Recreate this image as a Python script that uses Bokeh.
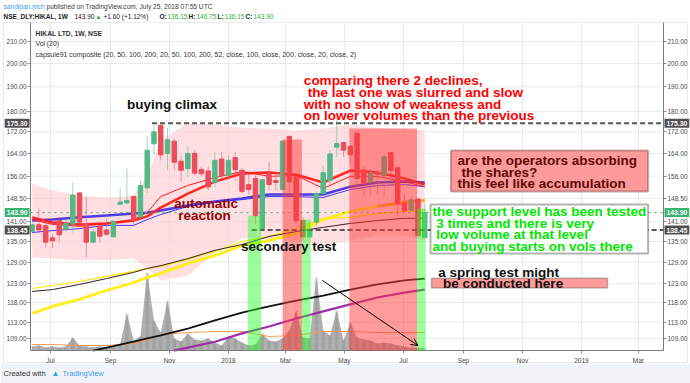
import math
import pandas as pd
from bokeh.plotting import figure
from bokeh.models import (Range1d, LogAxis, DatetimeAxis, FixedTicker, PrintfTickFormatter, Label,
                          Arrow, OpenHead, BoxAnnotation, ColumnDataSource, LinearScale, LogScale)
from bokeh.embed import file_html
from bokeh.resources import INLINE

# ---------------- data ----------------
FIRST_WEEK = "2017-06-12"
opens = [138.0, 140.1, 139.8, 136.1, 141.4, 138.7, 140.3, 150.3, 140.5, 134.8,
         139.8, 138.5, 136.4, 146.6, 147.0, 149.1, 142.6, 152.0, 167.5, 174.5,
         164.0, 168.5, 161.2, 158.6, 164.0, 158.3, 157.8, 153.8, 162.0, 156.2,
         162.5, 158.0, 153.1, 155.2, 138.8, 157.0, 154.5, 151.4, 170.3, 155.8,
         141.4, 136.4, 140.9, 150.1, 154.5, 166.3, 168.0, 166.6, 171.5, 158.2,
         153.9, 157.4, 156.2, 164.3, 158.9, 147.0, 144.7, 148.3, 136.15]
highs = [140.6, 145.2, 140.9, 137.2, 142.4, 141.9, 153.8, 150.5, 149.1, 138.8,
         140.3, 141.9, 141.4, 152.2, 158.6, 149.4, 154.5, 170.2, 174.8, 175.3,
         173.5, 169.5, 163.3, 166.5, 165.2, 159.3, 159.3, 164.6, 164.6, 163.5,
         164.5, 158.8, 156.5, 156.2, 155.0, 161.1, 157.6, 168.9, 170.5, 156.2,
         142.4, 141.0, 150.8, 159.7, 165.2, 178.0, 168.3, 167.0, 171.7, 159.3,
         158.6, 158.0, 164.0, 164.6, 159.4, 149.8, 149.4, 148.6, 146.75]
lows = [137.4, 137.6, 133.2, 133.0, 134.7, 137.7, 137.7, 140.3, 130.4, 134.6,
        134.7, 136.7, 136.2, 146.2, 146.5, 139.8, 141.4, 150.2, 163.5, 161.5,
        158.0, 158.0, 154.0, 155.6, 156.2, 155.8, 151.1, 152.3, 155.0, 155.5,
        154.5, 150.0, 150.0, 140.3, 138.3, 151.1, 151.1, 151.1, 150.4, 140.3,
        135.6, 135.8, 139.8, 149.4, 152.8, 162.7, 162.7, 159.7, 151.5, 149.4,
        149.4, 150.0, 149.0, 154.5, 142.6, 144.0, 144.5, 136.4, 136.15]
closes = [140.1, 138.5, 134.8, 135.2, 137.0, 140.5, 149.6, 140.9, 134.8, 137.9,
          136.6, 137.2, 141.2, 147.3, 147.8, 141.4, 152.8, 165.2, 172.0, 163.5,
          169.0, 160.8, 158.0, 164.0, 157.0, 156.8, 152.3, 161.5, 156.2, 161.5,
          158.2, 150.8, 151.4, 142.9, 154.8, 153.1, 153.8, 168.5, 154.0, 141.4,
          136.4, 138.3, 150.1, 157.2, 163.8, 167.6, 165.2, 163.5, 155.2, 153.5,
          157.1, 156.6, 162.8, 158.0, 146.7, 144.5, 148.0, 136.7, 143.90]
volume_k = [100, 125, 75, 100, 75, 100, 325, 125, 100, 75, 100, 75, 100, 150, 925,
            250, 350, 1950, 750, 450, 1250, 300, 225, 425, 275, 250, 300, 200, 125,
            350, 300, 200, 125, 150, 425, 250, 225, 300, 500, 1000, 325, 300, 1825,
            500, 375, 1000, 250, 700, 325, 275, 250, 175, 200, 175, 125, 100, 75, 75, 50]

# indicator lines, sampled at these week numbers (1 = first candle)
ma_week_idx = [1, 4, 8, 12, 16, 18, 20, 24, 28, 32, 36, 40, 44, 48, 52, 56, 59]
ema20 = [142.4, 140.8, 140.2, 140.5, 141.4, 142.7, 145.5, 150.1, 154.1, 156.9, 157.2,
         156.5, 153.8, 157.9, 157.2, 155.2, 153.1]
sma20 = [141.7, 140.2, 139.6, 140.5, 141.7, 143.9, 149.1, 152.8, 155.5, 157.6, 155.9,
         156.2, 151.8, 155.9, 155.9, 154.1, 152.4]
ema50 = [141.4, 141.7, 142.4, 143.0, 143.6, 143.9, 144.6, 146.2, 147.5, 148.5, 149.8,
         149.8, 149.8, 152.4, 153.8, 154.1, 153.8]
sma50 = [137.7, 138.3, 138.9, 139.9, 139.9, 141.7, 143.3, 145.9, 147.2, 148.1, 149.1,
         149.1, 148.8, 151.4, 152.8, 153.1, 152.4]
ema100 = [115.2, 117.0, 118.8, 121.2, 123.3, 124.7, 125.8, 128.6, 130.9, 133.8, 135.3,
          137.4, 141.7, 144.3, 145.9, 147.2, 147.8]
sma100 = [121.7, 122.5, 123.6, 125.0, 126.4, 127.2, 127.8, 129.8, 132.1, 135.0, 136.5,
          138.9, 142.1, 142.4, 143.6, 144.3, 144.6]
sma200 = [120.9, 121.4, 122.8, 124.4, 126.1, 127.2, 128.0, 130.0, 132.4, 134.1, 136.5,
          138.0, 139.3, 140.5, 141.4, 142.1, 142.1]
bb_upper = [153.5, 151.1, 149.4, 148.8, 149.4, 156.2, 168.7, 175.5, 174.8, 173.6, 173.2,
            172.5, 173.2, 174.8, 173.6, 173.2, 172.5]
bb_lower = [130.3, 130.0, 129.5, 129.5, 130.0, 127.2, 123.9, 125.2, 131.8, 135.9, 135.9,
            135.3, 133.8, 135.3, 136.8, 136.8, 135.3]
vol_ma_k = [150, 150, 125, 125, 175, 275, 400, 450, 475, 475, 350, 375, 475, 475, 450, 450, 450]

long_black_idx = [10, 12, 16, 18, 20, 24, 28, 32, 36, 40, 44, 48, 52, 56, 59]
long_black = [106.1, 106.8, 108.2, 109.0, 109.7, 111.4, 113.4, 115.4, 117.0,
              118.5, 119.8, 121.4, 122.8, 123.9, 124.4]
long_magenta_idx = [22, 24, 28, 32, 36, 40, 44, 48, 52, 56, 59]
long_magenta = [106.1, 106.8, 108.2, 110.2, 111.9, 113.9, 115.7, 117.5, 119.3, 120.6, 121.4]

RESISTANCE = 175.30
SUPPORT = 138.45
LAST_CLOSE = 143.90

y_ticks = [109, 113, 118, 123, 129, 135, 141, 148.5, 156, 164, 172, 180, 190, 200, 210]
x_tick_dates = ["2017-07-01", "2017-09-01", "2017-11-01", "2018-01-01", "2018-03-01",
                "2018-05-01", "2018-07-01", "2018-09-01", "2018-11-01", "2019-01-01", "2019-03-01"]
x_tick_labels = ["Jul", "Sep", "Nov", "2018", "Mar", "May", "Jul", "Sep", "Nov", "2019", "Mar"]

# highlight zones: (start, end, top price, kind)
zones = [("2018-01-21", "2018-02-04", 142.9, "g"),
         ("2018-02-26", "2018-03-18", 169.1, "r"),
         ("2018-03-18", "2018-03-27", 141.7, "g"),
         ("2018-05-06", "2018-07-15", 173.3, "r"),
         ("2018-07-15", "2018-07-24", 145.2, "g")]

# visible window of the price pane
PANE_START, PANE_END = "2017-06-10 07:00", "2019-03-26 22:00"
P_BOT, P_TOP = 106.12, 219.0

# ---------------- layout of the canvas ----------------
W, H = 690, 383
PANE_L, PANE_R, PANE_T, PANE_B = 30, 663, 22, 350   # pixel box of the price pane


def ms(d):
    return pd.Timestamp(d).value // 10**6


x0, x1 = ms(PANE_START), ms(PANE_END)
ms_px = (x1 - x0) / (PANE_R - PANE_L)
lk = math.log(P_TOP / P_BOT) / (PANE_B - PANE_T)
VOL_PX = 25.0  # volume units per pixel

weeks = pd.date_range(FIRST_WEEK, periods=len(opens), freq="7D")
wk_ms = [ms(w) for w in weeks]


def wk(idx_list):
    return [wk_ms[i - 1] for i in idx_list]


FONT = "Liberation Sans"

p = figure(width=W, height=H, x_axis_location=None, y_axis_location=None,
           x_range=Range1d(x0 - PANE_L * ms_px, x1 + (W - PANE_R) * ms_px),
           y_range=Range1d(P_BOT * math.exp(-(H - PANE_B) * lk), P_TOP * math.exp(PANE_T * lk)),
           output_backend="svg", toolbar_location=None, title=None)
p.x_scale = LinearScale()
p.y_scale = LogScale()
p.extra_y_ranges = {"vol": Range1d(-(H - PANE_B) * VOL_PX, PANE_B * VOL_PX)}
p.extra_y_scales = {"vol": LinearScale()}
p.min_border = 0
p.outline_line_color = None
p.background_fill_color = "white"
p.border_fill_color = "white"
p.grid.visible = False

# footer band and outer frame
p.add_layout(BoxAnnotation(left=0, right=W, top=H - 363, bottom=0,
                           left_units="screen", right_units="screen",
                           top_units="screen", bottom_units="screen",
                           fill_color="#f0f3f7", fill_alpha=1, line_color=None, level="underlay"))
p.add_layout(BoxAnnotation(left=3, right=687, top=H - PANE_T, bottom=H - 362,
                           left_units="screen", right_units="screen",
                           top_units="screen", bottom_units="screen",
                           fill_color="white", fill_alpha=1, line_color="#b8b8b8",
                           line_width=1, level="underlay"))

# grid
p.segment(x0=x0, x1=x1, y0=y_ticks, y1=y_ticks, line_color="#e6ebf0", line_width=1)
p.segment(x0=[ms(d) for d in x_tick_dates], x1=[ms(d) for d in x_tick_dates],
          y0=P_BOT, y1=P_TOP, line_color="#e6ebf0", line_width=1)

# axes (fixed to the pane edges)
yt = FixedTicker(ticks=y_ticks)
lax = LogAxis(ticker=yt, formatter=PrintfTickFormatter(format="%.2f"),
              fixed_location=x0, bounds=(P_BOT, P_TOP))
rax = LogAxis(ticker=yt, formatter=PrintfTickFormatter(format="%.2f"),
              fixed_location=x1, bounds=(P_BOT, P_TOP))
bax = DatetimeAxis(ticker=FixedTicker(ticks=[ms(d) for d in x_tick_dates]),
                   fixed_location=P_BOT, bounds=(x0, x1))
bax.major_label_overrides = {ms(d): lab for d, lab in zip(x_tick_dates, x_tick_labels)}
p.add_layout(lax, "left")
p.add_layout(rax, "right")
p.add_layout(bax, "below")
for ax in (lax, rax, bax):
    ax.major_label_text_font = FONT
    ax.major_label_text_font_size = "6.5px"
    ax.major_label_text_color = "#4a4a4a"
    ax.axis_line_color = "#7a7a7a"
    ax.major_tick_line_color = "#8c8c8c"
    ax.major_tick_out = 3
    ax.major_tick_in = 0
    ax.minor_tick_line_color = None
    ax.major_label_standoff = 1
bax.major_label_standoff = 3

# bollinger band
p.varea(x=wk(ma_week_idx), y1=bb_lower, y2=bb_upper, fill_color="#ffc9cf", fill_alpha=0.6)

# volume
p.varea(x=wk_ms, y1=0, y2=volume_k, y_range_name="vol", fill_color="#8f8f8f", fill_alpha=0.7)
p.vbar(x=wk_ms, width=3.5 * 86400000, top=volume_k, bottom=0, y_range_name="vol",
       fill_color="#7a7a7a", fill_alpha=0.25, line_color=None)
p.line(x=wk(ma_week_idx), y=vol_ma_k, y_range_name="vol", line_color="#ff9a5c", line_width=1)

# moving averages
p.line(wk(ma_week_idx), ema100, line_color="#ffee22", line_width=3)
p.line(wk(ma_week_idx[-3:]), ema100[-3:], line_color="#ffa726", line_width=3)
p.line(wk(ma_week_idx), sma100, line_color="#ffe600", line_width=1.2)
p.line(wk(ma_week_idx), sma200, line_color="#3a2020", line_width=1)
p.line(wk(long_black_idx), long_black, line_color="#111111", line_width=1.8)
p.line(wk(long_magenta_idx), long_magenta, line_color="#9c2fa8", line_width=2.2)
p.line(wk(ma_week_idx), ema50, line_color="#4b3be0", line_width=2.5)
p.line(wk(ma_week_idx), sma50, line_color="#3a3aff", line_width=1)
p.line(wk(ma_week_idx), ema20, line_color="#ff2525", line_width=2.5)
p.line(wk(ma_week_idx), sma20, line_color="#ff1a1a", line_width=1)

# candles
DAY = 86400000
up, down = "#53b987", "#eb4d5c"
colors = [up if c >= o else down for o, c in zip(opens, closes)]
src = ColumnDataSource(dict(t=wk_ms, o=opens, h=highs, l=lows, c=closes, color=colors,
                            top=[max(o, c) for o, c in zip(opens, closes)],
                            bot=[min(o, c) for o, c in zip(opens, closes)]))
p.segment(x0="t", y0="l", x1="t", y1="h", line_color="color", line_alpha=0.55,
          line_width=1, source=src)
p.vbar(x="t", width=4.6 * DAY, top="top", bottom="bot", fill_color="color",
       line_color="color", source=src)

# highlight zones
for s, e, top, kind in zones:
    p.add_layout(BoxAnnotation(left=ms(s), right=ms(e), top=top, bottom=P_BOT,
                               fill_color="#ff3838" if kind == "r" else "#22ff22",
                               fill_alpha=0.5 if kind == "r" else 0.45,
                               line_color=None))

# levels
p.segment(x0=[ms("2017-10-14"), ms("2018-01-25")], y0=[RESISTANCE, SUPPORT],
          x1=[x1, x1], y1=[RESISTANCE, SUPPORT],
          line_color="#555555", line_width=2, line_dash="5 3")
p.segment(x0=[x0], y0=[LAST_CLOSE], x1=[x1], y1=[LAST_CLOSE],
          line_color="#3cb371", line_dash="dotted", line_width=1)

# arrow
p.add_layout(Arrow(end=OpenHead(size=7, line_color="black", line_width=1),
                   x_start=ms("2018-04-08"), y_start=123.9,
                   x_end=ms("2018-07-16"), y_end=107.3,
                   line_color="black", line_width=1))

# text boxes
p.add_layout(BoxAnnotation(left=ms("2018-08-19"), right=ms("2019-03-11"), top=165.1, bottom=150.8,
                           fill_color="#ff9a9a", fill_alpha=1, line_color="#3a0a0a", line_width=2))
p.add_layout(BoxAnnotation(left=ms("2018-07-29"), right=ms("2019-03-11"), top=146.5, bottom=131.5,
                           fill_color="white", fill_alpha=1, line_color="black", line_width=2))
p.add_layout(BoxAnnotation(left=ms("2018-07-30"), right=ms("2019-01-28"), top=124.5, bottom=121.8,
                           fill_color="#ff9a9a", fill_alpha=1, line_color="#333333", line_width=1.5))


def note(txt, d, y, color, size="13.5px", style="bold"):
    p.add_layout(Label(x=ms(d), y=y, text=txt, text_font=FONT, text_font_size=size,
                       text_font_style=style, text_color=color, text_baseline="middle"))


note("buying climax", "2017-09-18", 182.7, "#111111")
note("comparing there 2 declines,", "2018-03-20", 192.7, "#ff0000")
note("the last one was slurred and slow", "2018-03-24", 187.6, "#ff0000")
note("with no show of weakness and", "2018-03-20", 182.7, "#ff0000")
note("on lower volumes than the previous", "2018-03-20", 178.3, "#ff0000")
note("automatic", "2017-11-06", 146.8, "#990000")
note("reaction", "2017-11-10", 142.9, "#990000")
note("secondary test", "2018-01-14", 133.5, "#111111")
note("are the operators absorbing", "2018-08-26", 161.5, "#5c0a0a")
note("the shares?", "2018-08-30", 157.4, "#5c0a0a")
note("this feel like accumulation", "2018-08-26", 153.5, "#5c0a0a")
note("the support level has been tested", "2018-07-31", 144.3, "#00e600")
note("3 times and there is very", "2018-08-04", 140.5, "#00e600")
note("low volume at that level", "2018-08-04", 137.0, "#00e600")
note("and buying starts on vols there", "2018-07-31", 133.5, "#00e600")
note("a spring test might", "2018-08-06", 126.1, "#111111")
note("be conducted here", "2018-08-11", 123.0, "#111111")

# axis value boxes
for val, bg in [(RESISTANCE, "#505050"), (LAST_CLOSE, "#3cb371"), (SUPPORT, "#505050")]:
    p.add_layout(Label(x=PANE_L - 1, x_units="screen", y=val, text="%.2f" % val, text_align="right",
                       text_baseline="middle", text_font=FONT, text_font_size="6.8px",
                       text_font_style="bold", text_color="white", background_fill_color=bg,
                       padding=2))
    p.add_layout(Label(x=PANE_R + 1, x_units="screen", y=val, text="%.2f" % val, text_align="left",
                       text_baseline="middle", text_font=FONT, text_font_size="6.8px",
                       text_font_style="bold", text_color="white", background_fill_color=bg,
                       padding=2))


def slabel(txt, x, y, color="#333333", size="7px", style="normal"):
    # x, y given as pixels from the top-left corner of the picture
    p.add_layout(Label(x=x, y=H - y, x_units="screen", y_units="screen", text=txt,
                       text_font=FONT, text_font_size=size, text_font_style=style,
                       text_color=color, text_baseline="middle"))


# header above chart
slabel("sandipan.mch", 3, 6, "#3a9ee8", "6.6px")
slabel("published on TradingView.com, July 25, 2018 07:55 UTC", 46, 6, "#3c3c3c", "6.6px")
slabel("NSE_DLY:HIKAL, 1W", 3, 16, "#222222", "6.5px", "bold")
slabel("143.90", 74, 16, "#222222", "6.5px")
slabel("\u25b2", 95, 16, "#2ca02c", "6px")
slabel("+1.60 (+1.12%)", 103, 16, "#222222", "6.5px")
slabel("O:", 159, 16, "#222222", "6.5px", "bold")
slabel("136.15", 167, 16, "#2cb02c", "6.5px")
slabel("H:", 188, 16, "#222222", "6.5px", "bold")
slabel("146.75", 196, 16, "#2cb02c", "6.5px")
slabel("L:", 217, 16, "#222222", "6.5px", "bold")
slabel("136.15", 224, 16, "#2cb02c", "6.5px")
slabel("C:", 245, 16, "#222222", "6.5px", "bold")
slabel("143.90", 253, 16, "#2cb02c", "6.5px")

# legend inside the pane
slabel("HIKAL LTD, 1W, NSE", 35, 33, "#333333", "6.8px", "bold")
slabel("Vol (20)", 35, 43, "#333333", "6.8px")
slabel("capsule91 composite (20, 50, 100, 200, 20, 50, 100, 200, 52, close, 100, close, 200, close, 20, close, 2)",
       35, 54, "#333333", "7px")

# footer
slabel("Created with", 3, 373, "#333333", "7.5px")
slabel("\u25b2", 51, 373, "#3a9ee8", "8px")
slabel("TradingView", 62, 373, "#3a9ee8", "7.5px")

open("out.html", "w").write(file_html(p, INLINE))
